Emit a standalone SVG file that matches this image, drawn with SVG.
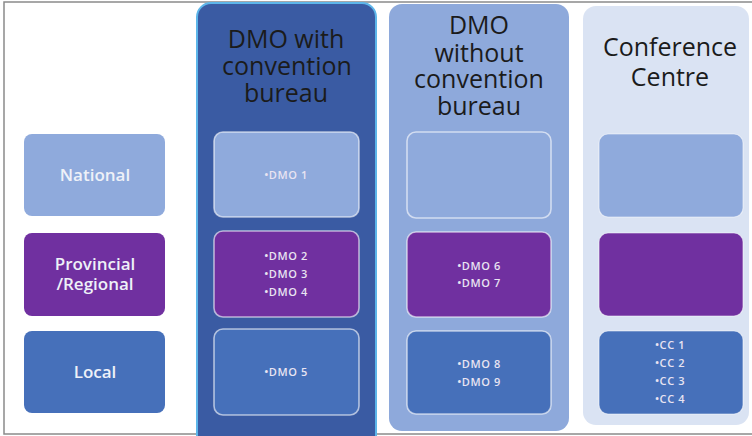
<svg xmlns="http://www.w3.org/2000/svg" width="752" height="436" viewBox="0 0 752 436">
<style>
.hdr{font-family:"Open Sans","Liberation Sans",sans-serif;font-size:25px;fill:#1b1b1b;text-anchor:middle}
.lbl{font-family:"Open Sans","Liberation Sans",sans-serif;font-size:17px;font-weight:600;fill:#eef1f8;text-anchor:middle}
.itm{font-family:"Open Sans","Liberation Sans",sans-serif;font-size:11px;font-weight:600;fill:#e9e4f2;text-anchor:middle;letter-spacing:0.6px}
.nat{fill:#8FAADC}
.prv{fill:#7030A0}
.loc{fill:#4670BA}
.inner{stroke:#ffffff;stroke-opacity:0.6;stroke-width:1.6}
.inner3{stroke:#ffffff;stroke-opacity:0.5;stroke-width:1.2}
</style>
<rect x="0" y="0" width="752" height="436" fill="#ffffff"/>
<rect x="4" y="2" width="750" height="432" fill="none" stroke="#8a8a8a" stroke-width="1.5"/>
<g id="col-dmo-with">
<rect x="197" y="3" width="179" height="450" rx="14" fill="#3A5BA3" stroke="#5DB6EA" stroke-width="2"/>
<text class="hdr" x="286" y="48">DMO with</text>
<text class="hdr" x="287" y="75">convention</text>
<text class="hdr" x="286" y="102">bureau</text>
</g>
<g id="col-dmo-without">
<rect x="389" y="4" width="180" height="427" rx="13" fill="#8EA9DB"/>
<text class="hdr" x="479" y="34">DMO</text>
<text class="hdr" x="479" y="62">without</text>
<text class="hdr" x="479" y="88">convention</text>
<text class="hdr" x="479" y="115">bureau</text>
</g>
<g id="col-conference">
<rect x="583" y="6" width="166" height="419" rx="13" fill="#DAE3F3"/>
<text class="hdr" x="670" y="56">Conference</text>
<text class="hdr" x="670" y="86">Centre</text>
</g>
<g id="row-national">
<rect class="nat" x="24" y="134" width="141" height="82" rx="8"/>
<text class="lbl" x="95" y="181">National</text>
</g>
<g id="row-provincial">
<rect class="prv" x="24" y="233" width="141" height="83" rx="8"/>
<text class="lbl" x="95" y="270">Provincial</text>
<text class="lbl" x="95" y="290">/Regional</text>
</g>
<g id="row-local">
<rect class="loc" x="24" y="331" width="141" height="82" rx="8"/>
<text class="lbl" x="95" y="378">Local</text>
</g>
<g id="dmo-with-national">
<rect class="nat inner" x="214" y="132" width="145" height="85" rx="9"/>
<text class="itm" x="286" y="179">•DMO 1</text>
</g>
<g id="dmo-with-provincial">
<rect class="prv inner" x="214" y="231" width="145" height="86" rx="9"/>
<text class="itm" x="286" y="260">•DMO 2</text>
<text class="itm" x="286" y="278">•DMO 3</text>
<text class="itm" x="286" y="296">•DMO 4</text>
</g>
<g id="dmo-with-local">
<rect class="loc inner" x="214" y="329" width="145" height="86" rx="9"/>
<text class="itm" x="286" y="376">•DMO 5</text>
</g>
<g id="dmo-without-national">
<rect class="nat inner" x="407" y="132" width="144" height="86" rx="9"/>
</g>
<g id="dmo-without-provincial">
<rect class="prv inner" x="407" y="232" width="144" height="85" rx="9"/>
<text class="itm" x="479" y="270">•DMO 6</text>
<text class="itm" x="479" y="287">•DMO 7</text>
</g>
<g id="dmo-without-local">
<rect class="loc inner" x="407" y="331" width="144" height="83" rx="9"/>
<text class="itm" x="479" y="368">•DMO 8</text>
<text class="itm" x="479" y="386">•DMO 9</text>
</g>
<g id="cc-national">
<rect class="nat inner3" x="599" y="134" width="144" height="83" rx="9"/>
</g>
<g id="cc-provincial">
<rect class="prv inner3" x="599" y="233" width="144" height="83" rx="9"/>
</g>
<g id="cc-local">
<rect class="loc inner3" x="599" y="331" width="144" height="83" rx="9"/>
<text class="itm" x="670" y="349">•CC 1</text>
<text class="itm" x="670" y="367">•CC 2</text>
<text class="itm" x="670" y="385">•CC 3</text>
<text class="itm" x="670" y="403">•CC 4</text>
</g>
<g id="connectors"></g>
</svg>
